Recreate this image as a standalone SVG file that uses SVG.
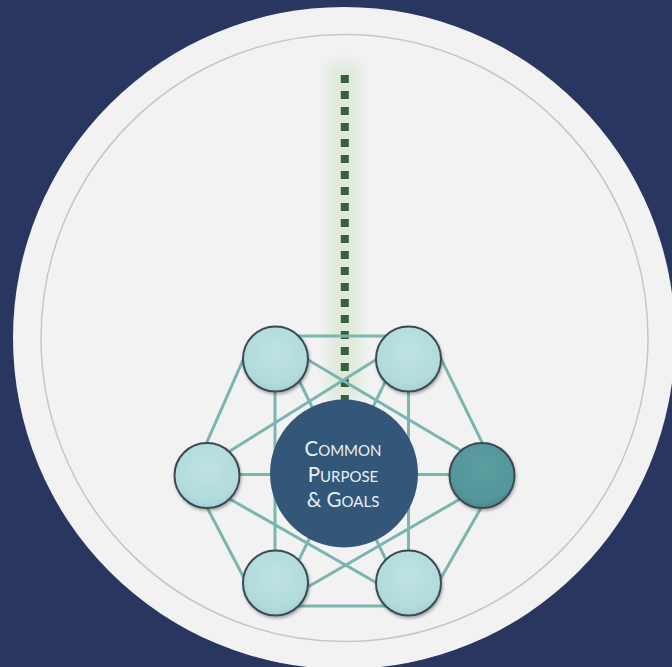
<svg xmlns="http://www.w3.org/2000/svg" width="672" height="667" viewBox="0 0 672 667">
<defs>
<style>
.edge{stroke:#7ab6af;stroke-width:3;fill:none;stroke-linecap:butt}
.node{fill:url(#lightGrad);stroke:#3b4a57;stroke-width:2}
.lbl{font-family:Lato,"Open Sans","DejaVu Sans",sans-serif;fill:#e8eff2;text-anchor:middle}
.big{font-size:20.5px}
.sm{font-size:15px}
</style>
<radialGradient id="lightGrad" cx="50%" cy="40%" r="60%">
<stop offset="0" stop-color="#bfe3e4"/>
<stop offset="0.8" stop-color="#b2dbdc"/>
<stop offset="1" stop-color="#a4cfd1"/>
</radialGradient>
<radialGradient id="tealGrad" cx="50%" cy="40%" r="60%">
<stop offset="0" stop-color="#5d9ea1"/>
<stop offset="0.8" stop-color="#55969a"/>
<stop offset="1" stop-color="#4a8a8e"/>
</radialGradient>
<filter id="shadow" x="-30%" y="-30%" width="160%" height="160%">
<feDropShadow dx="1" dy="2" stdDeviation="1.5" flood-color="#000" flood-opacity="0.3"/>
</filter>
<filter id="glow" x="-100%" y="-10%" width="300%" height="120%">
<feGaussianBlur stdDeviation="6"/>
</filter>
</defs>
<rect width="672" height="667" fill="#283660"/>
<circle cx="344" cy="338" r="331" fill="#f2f2f2"/>
<circle cx="344.5" cy="338" r="303.5" fill="none" stroke="#c6c6c6" stroke-width="1.5"/>
<g id="dotted-line">
<rect x="328" y="62" width="33" height="340" fill="#dfeadd" filter="url(#glow)"/>
<line x1="344.8" y1="75" x2="344.8" y2="400" stroke="#34603a" stroke-width="8" stroke-dasharray="8 8"/>
</g>
<g id="connectors">
<line class="edge" x1="275" y1="336" x2="408" y2="336"/>
<line class="edge" x1="275" y1="606" x2="408" y2="606"/>
<line class="edge" x1="246.6" y1="351.8" x2="203.4" y2="450.2"/>
<line class="edge" x1="437.7" y1="351.8" x2="485.7" y2="449.9"/>
<line class="edge" x1="203" y1="499.7" x2="247" y2="583.7"/>
<line class="edge" x1="485.7" y1="499.7" x2="437.7" y2="583.7"/>
<line class="edge" x1="275" y1="359" x2="275" y2="584"/>
<line class="edge" x1="408.5" y1="359" x2="408.5" y2="584"/>
<line class="edge" x1="300.7" y1="355.5" x2="467.6" y2="454.5"/>
<line class="edge" x1="383.9" y1="354.8" x2="224.4" y2="454.5"/>
<line class="edge" x1="224.1" y1="495.7" x2="390.9" y2="591"/>
<line class="edge" x1="465.8" y1="495.7" x2="300.8" y2="591"/>
<line class="edge" x1="207" y1="474.5" x2="482" y2="474.5"/>
<line class="edge" x1="283" y1="347" x2="403" y2="595"/>
<line class="edge" x1="402" y1="347" x2="282" y2="595"/>
</g>
<g id="node-top-left"><circle class="node" cx="275.5" cy="359" r="32.5" filter="url(#shadow)"/></g>
<g id="node-top-right"><circle class="node" cx="408.5" cy="359" r="32.5" filter="url(#shadow)"/></g>
<g id="node-left"><circle class="node" cx="207" cy="475.5" r="32.5" filter="url(#shadow)"/></g>
<g id="node-right"><circle cx="482" cy="475.5" r="32.5" fill="url(#tealGrad)" stroke="#3b4a57" stroke-width="2" filter="url(#shadow)"/></g>
<g id="node-bottom-left"><circle class="node" cx="275.5" cy="583" r="32.5" filter="url(#shadow)"/></g>
<g id="node-bottom-right"><circle class="node" cx="408.5" cy="583" r="32.5" filter="url(#shadow)"/></g>
<g id="node-center">
<circle cx="344" cy="473.5" r="74" fill="#335779"/>
<text class="lbl" x="343" y="456"><tspan class="big">C</tspan><tspan class="sm">OMMON</tspan></text>
<text class="lbl" x="343" y="481.5"><tspan class="big">P</tspan><tspan class="sm">URPOSE</tspan></text>
<text class="lbl" x="343" y="506.5"><tspan class="big">&amp; G</tspan><tspan class="sm">OALS</tspan></text>
</g>
</svg>
